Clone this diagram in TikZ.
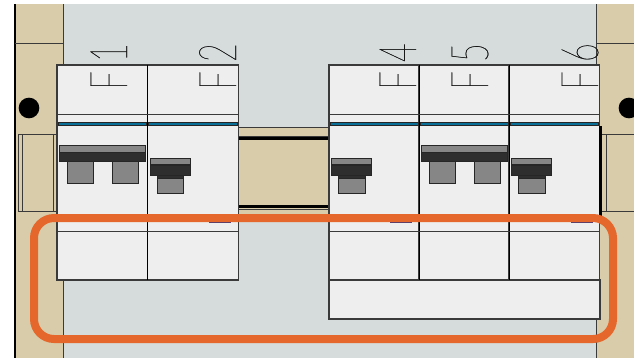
\documentclass[tikz,border=0pt]{standalone}
\usepackage{fontspec}
\usepackage{xcolor}
\usetikzlibrary{positioning,calc}
\newfontfamily\labelfont[FakeStretch=0.62,LetterSpace=18,FakeBold=0.4]{Lato Hairline}
\definecolor{panelcol}{HTML}{D8CCAB}
\definecolor{wallcol}{HTML}{D6DCDC}
\definecolor{modcol}{HTML}{EEEEEE}
\definecolor{edgecol}{HTML}{3A3A3A}
\definecolor{bandcol}{HTML}{0A6F96}
\definecolor{markcol}{HTML}{4A3A70}
\definecolor{ringcol}{HTML}{E5672B}

\begin{document}
\begin{tikzpicture}[
    x=0.75pt, y=-0.75pt,
    panel/.style={rectangle, fill=panelcol, anchor=north west, inner sep=0pt, outer sep=0pt},
    slot/.style={panel, draw=edgecol, line width=0.75pt},
    module/.style={rectangle, draw=edgecol, line width=0.8pt, fill=modcol, anchor=north west, inner sep=0pt, outer sep=0pt, minimum width=67.9pt, minimum height=161.25pt},
    hline/.style={draw=edgecol, line width=0.75pt},
    band/.style={rectangle, draw=black!85, line width=0.6pt, fill=bandcol, inner sep=0pt, outer sep=0pt, minimum height=2.2pt, anchor=north west},
    grip/.style={rectangle, draw=black!85, line width=0.75pt, fill=gray!95, inner sep=0pt, outer sep=0pt, anchor=north west},
    dark/.style={grip, fill=black!82},
    flabel/.style={rotate=90, anchor=base west, inner sep=0pt, outer sep=0pt, font=\labelfont\fontsize{39}{39}\selectfont, text=black!90},
    dot/.style={circle, fill=black, inner sep=0pt, minimum size=15.5pt}
]

\useasboundingbox (0,0) rectangle (634,358);

% Wall
\node[rectangle, fill=wallcol, anchor=north west, inner sep=0pt, minimum width=437.25pt, minimum height=265.5pt] (wall) at (15,4) {};

% Side panels
\node[panel, minimum width=36pt, minimum height=265.5pt] (lpanel) at (15,4) {};
\node[panel, minimum width=28.5pt, minimum height=265.5pt] (rpanel) at (596,4) {};
\draw[black, line width=2.2pt] (lpanel.north west) -- (lpanel.south west);
\draw[hline] (lpanel.north east) -- (lpanel.south east);
\draw[hline] (rpanel.north west) -- (rpanel.south west);
\draw[hline] (15,43) -- (lpanel.east |- 0,43);
\draw[hline] (rpanel.west |- 0,43) -- (634,43);
\node[dot] (ldot) at (29,108) {};
\node[dot] (rdot) at (629,108) {};

% Slots
\node[slot, minimum width=28.5pt, minimum height=58pt] (lslot) at (18,134) {};
\draw[hline] (22,134) -- (22,212);
\draw[hline] (53,134) -- (53,212);
\node[slot, minimum width=25.5pt, minimum height=58pt] (rslot) at (601,134) {};
\draw[hline] (606,134) -- (606,212);

% Rail
\node[panel, minimum width=68.25pt, minimum height=68pt] (rail) at (238,127) {};
\draw[hline] (rail.north west) -- (rail.north east);
\draw[draw=edgecol, line width=0.7pt] (238,136) -- (329,136);
\draw[black, line width=1.8pt] (238,138.5) -- (329,138.5);
\draw[black, line width=1.8pt] (238,206.5) -- (329,206.5);
\draw[draw=edgecol, line width=0.7pt] (238,209) -- (329,209);

% Modules
\node[module] (f1) at (57,65) {};
\node[module, right=0pt of f1] (f2) {};
\draw[module, anchor=center] (329,280) rectangle (600,319);
\node[module] (f4) at (329,65) {};
\node[module] (f5) at (419,65) {};
\node[module] (f6) at (509,65) {};
\draw[black, line width=1.6pt] (600.5,126) -- (600.5,216);

% Dividers and lines across the modules
\foreach \m in {f1,f4,f5} {
    \draw[black, line width=0.85pt] (\m.north east) -- (\m.south east);
}
\foreach \a/\b in {f1/f2,f4/f6} {
    \draw[hline] (\a.west |- 0,114) -- (\b.east |- 0,114);
    \draw[hline] (\a.west |- 0,231) -- (\b.east |- 0,231);
}
\foreach \m in {f1,f2,f4,f5,f6} {
    \node[band, minimum width=66.5pt] at ($(\m.north west)+(1,57.2)$) {};
}

% Marks under the ring
\foreach \m/\i in {f2/61.5,f4/61,f6/62} {
    \node[rectangle, fill=markcol, anchor=north west, inner sep=0pt, minimum width=16pt, minimum height=6.5pt] at ($(\m.north west)+(\i,149)$) {};
}

% Double handles
\foreach \m in {f1,f5} {
    \node[grip, minimum width=19.5pt, minimum height=17pt] at ($(\m.north west)+(10,96)$) {};
    \node[grip, minimum width=19.5pt, minimum height=17pt] at ($(\m.north west)+(55,96)$) {};
    \node[grip, minimum width=64.5pt, minimum height=5.5pt] at ($(\m.north west)+(2,80)$) {};
    \node[dark, minimum width=64.5pt, minimum height=6.75pt] at ($(\m.north west)+(2,87)$) {};
}

% Single handles
\foreach \m in {f2,f4,f6} {
    \node[grip, minimum width=20pt, minimum height=13.5pt] at ($(\m.north west)+(9.5,110)$) {};
    \node[dark, minimum width=20pt, minimum height=3pt] at ($(\m.north west)+(9.5,109)$) {};
    \node[grip, minimum width=30pt, minimum height=5pt] at ($(\m.north west)+(2.5,93)$) {};
    \node[dark, minimum width=30pt, minimum height=7.5pt] at ($(\m.north west)+(2.5,100)$) {};
}

% Labels
\node[flabel] (lf1) at (127,89.5) {F1};
\node[flabel] (lf2) at (236,89.5) {F2};
\node[flabel] (lf4) at (416,89.5) {F4};
\node[flabel] (lf5) at (488,89.5) {F5};
\node[flabel] (lf6) at (598,89.5) {F6};

% Ring
\node[rectangle, rounded corners=15pt, draw=ringcol, line width=6pt, anchor=north west, inner sep=0pt, outer sep=0pt, minimum width=434.25pt, minimum height=90.75pt] (ring) at (34,218) {};

\end{tikzpicture}
\end{document}
